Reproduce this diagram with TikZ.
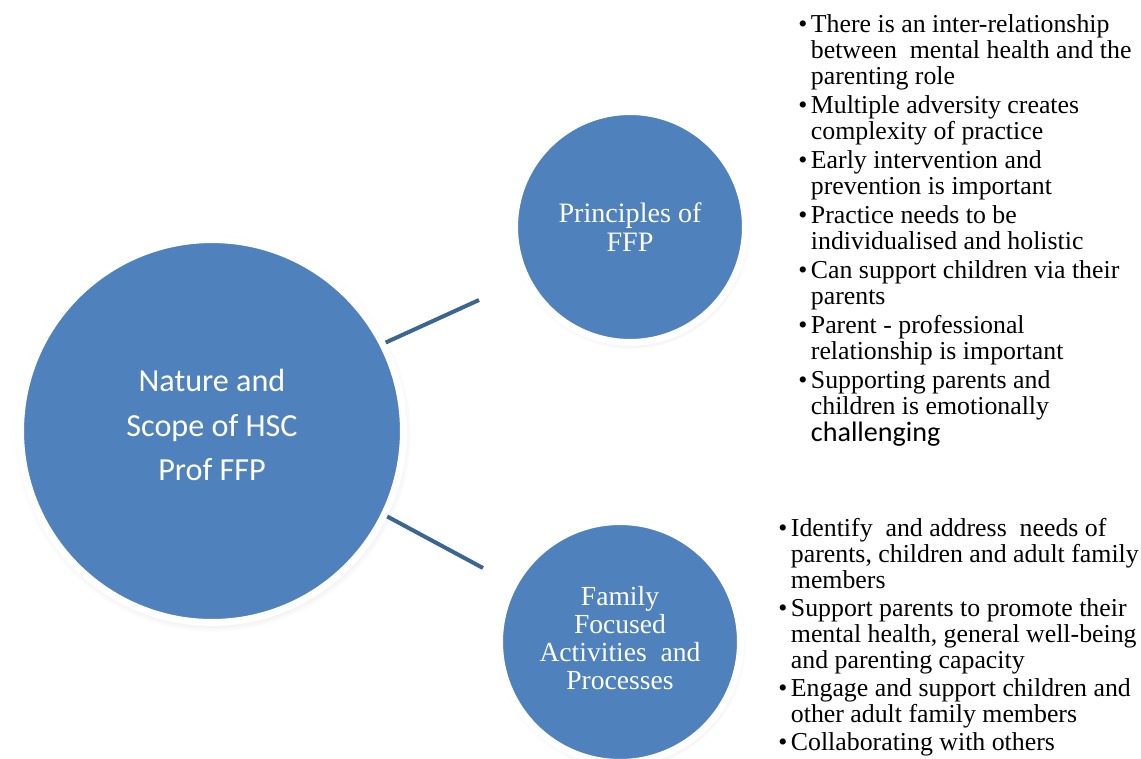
\documentclass[tikz,border=0pt]{standalone}
\usepackage{fontspec}
\setmainfont{Liberation Serif}
\newfontfamily\calibrifont{Carlito}
\usetikzlibrary{shadows}
\definecolor{ffpfill}{HTML}{4F81BD}
\definecolor{ffpline}{HTML}{3B6593}
\newcommand{\ffpitem}{\textbullet}

\begin{document}
\begin{tikzpicture}[x=0.02cm,y=-0.02cm,
  bubble/.style={circle,fill=ffpfill,draw=white,line width=0.14cm,inner sep=0pt,
    circular drop shadow={shadow xshift=0.4pt,shadow yshift=-1.5pt,shadow scale=1.035,opacity=0.4}},
  bubbletext/.style={text=white,align=center,inner sep=0pt},
  link/.style={draw=ffpline,line width=0.08cm},
  points/.style={anchor=north west,inner sep=0pt,font=\fontsize{14.7}{14.8}\selectfont}]
\useasboundingbox (0,0) rectangle (1141,758);
% the three circles
\node[bubble,minimum size=7.66cm] (hsc) at (212,431) {};
\node[bubble,minimum size=4.62cm] (prin) at (630,227) {};
\node[bubble,minimum size=4.82cm] (fam) at (620,642) {};
\node[bubbletext,font=\calibrifont\fontsize{18.3}{25.2}\selectfont] (hsctext) at (212,425) {Nature and\\Scope of HSC\\Prof FFP};
\node[bubbletext,font=\fontsize{16}{16.5}\selectfont] (printext) at (630,227) {Principles of\\FFP};
\node[bubbletext,font=\fontsize{15.7}{15.9}\selectfont] (famtext) at (620,638) {Family\\Focused\\Activities\ \ and\\Processes};
% connectors
\coordinate (prinend) at (479,300);
\coordinate (famend) at (483,568);
\draw[link] (hsc.27)--(prinend);
\draw[link] (hsc.-26)--(famend);
% bullet lists
\node[points] (prinlist) at (798,14) {\begin{tabular}{@{}l@{\hspace{2pt}}l@{}}
\ffpitem & There is an inter-relationship\\
 & between\ \ mental health and the\\
 & parenting role\\[1.7pt]
\ffpitem & Multiple adversity creates\\
 & complexity of practice\\[1.7pt]
\ffpitem & Early intervention and\\
 & prevention is important\\[1.7pt]
\ffpitem & Practice needs to be\\
 & individualised and holistic\\[1.7pt]
\ffpitem & Can support children via their\\
 & parents\\[1.7pt]
\ffpitem & Parent - professional\\
 & relationship is important\\[1.7pt]
\ffpitem & Supporting parents and\\
 & children is emotionally\\
 & {\calibrifont\fontsize{16}{14.8}\selectfont challenging}
\end{tabular}};
\node[points] (famlist) at (778,518) {\begin{tabular}{@{}l@{\hspace{2pt}}l@{}}
\ffpitem & Identify\ \ and address\ \ needs of\\
 & parents, children and adult family\\
 & members\\[1.2pt]
\ffpitem & Support parents to promote their\\
 & mental health, general well-being\\
 & and parenting capacity\\[1.2pt]
\ffpitem & Engage and support children and\\
 & other adult family members\\[1.2pt]
\ffpitem & Collaborating with others
\end{tabular}};
\end{tikzpicture}
\end{document}
